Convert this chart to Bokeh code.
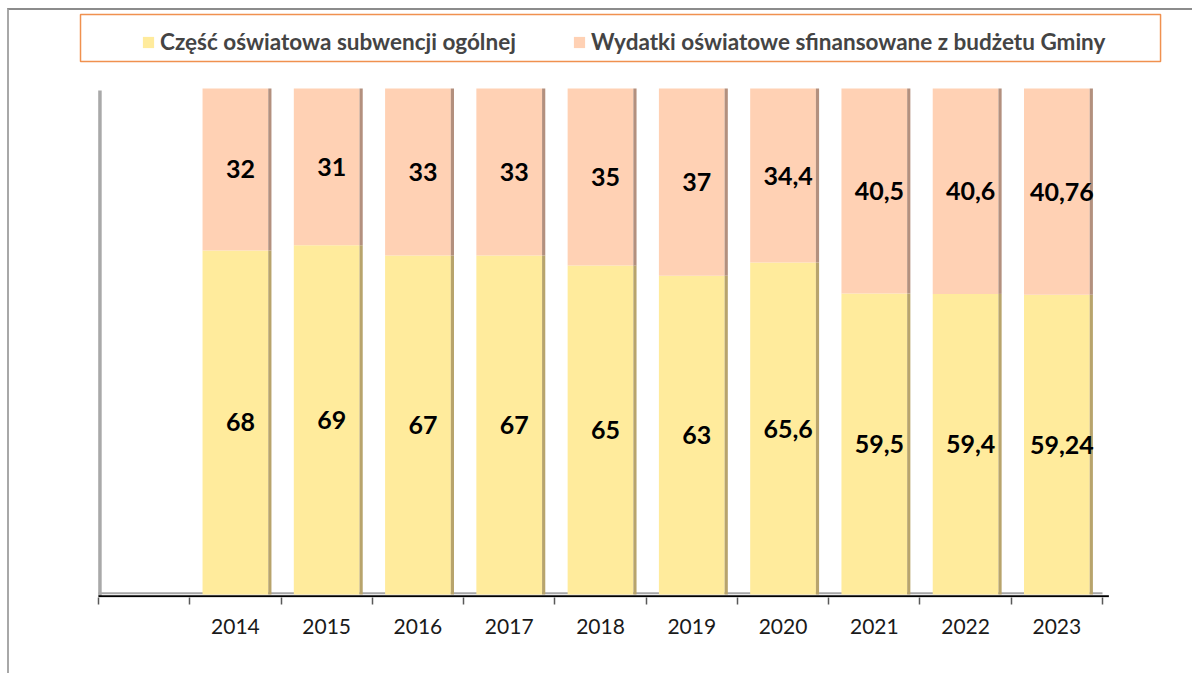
from bokeh.plotting import figure
from bokeh.models import ColumnDataSource, FixedTicker, Legend, LegendItem
from bokeh.core.properties import value
from bokeh.embed import file_html
from bokeh.resources import INLINE

# ---- data ----
slots = ["", "2014", "2015", "2016", "2017", "2018", "2019", "2020", "2021", "2022", "2023"]
years = ["2014", "2015", "2016", "2017", "2018", "2019", "2020", "2021", "2022", "2023"]
subwencja = [68, 69, 67, 67, 65, 63, 65.6, 59.5, 59.4, 59.24]
budzet = [32, 31, 33, 33, 35, 37, 34.4, 40.5, 40.6, 40.76]
series_names = ["Część oświatowa subwencji ogólnej",
                "Wydatki oświatowe sfinansowane z budżetu Gminy"]

def fmt(v):
    return f"{v:g}".replace(".", ",")

xc = [slots.index(y) + 0.5 for y in years]
total = [a + b for a, b in zip(subwencja, budzet)]

src = ColumnDataSource(dict(
    x=xc,
    sub=subwencja,
    top=total,
    mid_sub=[a / 2 for a in subwencja],
    mid_bud=[a + b / 2 for a, b in zip(subwencja, budzet)],
    lab_sub=[fmt(v) for v in subwencja],
    lab_bud=[fmt(v) for v in budzet],
    side_l=[x + 0.36 for x in xc],
    side_r=[x + 0.395 for x in xc],
    lab_x=[x + 0.055 for x in xc],
))

YELLOW = "#FFEB9C"
PEACH = "#FFD1B4"
YELLOW_SIDE = "#B8A46C"
PEACH_SIDE = "#B3907E"

p = figure(width=1185, height=665, x_range=(-0.975, 12.008), y_range=(-0.593, 115.415),
           output_backend="svg", toolbar_location=None, y_axis_location=None,
           min_border_left=0, min_border_right=0, min_border_top=0, min_border_bottom=78)
p.outline_line_color = None
p.xgrid.visible = False
p.ygrid.visible = False
p.background_fill_color = "white"
p.border_fill_color = "white"
p.styles = {"margin-top": "8px", "margin-left": "7px",
            "border-top": "2px solid #8c8c8c", "border-left": "2px solid #a8a8a8"}

# legend frame
p.quad(left=[-0.197], right=[11.636], bottom=[105.34], top=[114.62],
       fill_color="white", line_color="#F0914F", line_width=1.5)

# floor and wall
n = len(slots)
p.segment(x0=[0], y0=[0.25], x1=[n], y1=[0.25], line_color="#A6A6A6", line_width=2)
p.segment(x0=[0.016], y0=[-0.4], x1=[0.016], y1=[99.6], line_color="#A9A9A9", line_width=3.5)

# bars
r_sub = p.vbar(x="x", width=0.72, bottom=0, top="sub", source=src,
               fill_color=YELLOW, line_color=None)
r_bud = p.vbar(x="x", width=0.72, bottom="sub", top="top", source=src,
               fill_color=PEACH, line_color=None)
p.quad(left="side_l", right="side_r", bottom=0, top="sub", source=src,
       fill_color=YELLOW_SIDE, line_color=None)
p.quad(left="side_l", right="side_r", bottom="sub", top="top", source=src,
       fill_color=PEACH_SIDE, line_color=None)

# axis line
p.segment(x0=[0], y0=[-0.36], x1=[n + 0.07], y1=[-0.36], line_color="black", line_width=2)

# data labels
common = dict(text_font=value("Lato"), text_font_style="bold", text_font_size="25px",
              text_align="center", text_baseline="middle", text_color="black", source=src)
p.text(x="lab_x", y="mid_sub", text="lab_sub", **common)
p.text(x="lab_x", y="mid_bud", text="lab_bud", **common)

# x axis
ax = p.xaxis[0]
ax.ticker = FixedTicker(ticks=[i + 0.5 for i in range(n)], minor_ticks=list(range(n + 1)))
ax.major_label_overrides = {i + 0.5: s for i, s in enumerate(slots)}
ax.axis_line_color = None
ax.major_tick_line_color = None
ax.minor_tick_line_color = "#595959"
ax.minor_tick_line_width = 1.5
ax.minor_tick_in = 0
ax.minor_tick_out = 7
ax.major_label_standoff = 14
ax.major_label_text_font = "Lato"
ax.major_label_text_font_size = "21px"
ax.major_label_text_color = "#1a1a1a"

legend = Legend(items=[LegendItem(label=series_names[0], renderers=[r_sub]),
                       LegendItem(label=series_names[1], renderers=[r_bud])],
                orientation="horizontal", location=(132, 542), padding=0, spacing=56,
                glyph_width=14, glyph_height=14, label_standoff=5,
                label_text_font="Lato", label_text_font_style="bold",
                label_text_font_size="22.5px", border_line_color=None,
                background_fill_alpha=0, margin=0)
p.add_layout(legend)

open("out.html", "w").write(file_html(p, INLINE))
